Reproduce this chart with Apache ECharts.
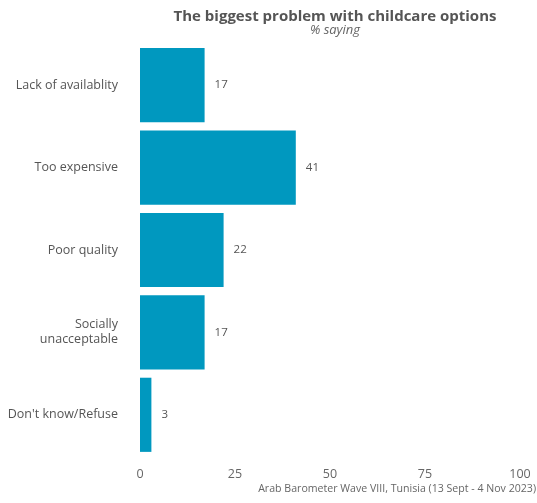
<!DOCTYPE html>
<html>
<head>
<meta charset="utf-8">
<script src="https://cdn.jsdelivr.net/npm/echarts@6/dist/echarts.min.js"></script>
<style>
  html, body { margin: 0; padding: 0; background: #fff; }
  #chart { width: 537px; height: 503px; }
</style>
</head>
<body>
<div id="chart"></div>
<script>
// data
var categories = ['Lack of availablity', 'Too expensive', 'Poor quality', 'Socially\nunacceptable', "Don't know/Refuse"];
var values = [17, 41, 22, 17, 3];
var tickValues = [0, 25, 50, 75, 100];

var font = 'Open Sans';
var chart = echarts.init(document.getElementById('chart'));

var option = {
  animation: false,
  textStyle: { fontFamily: font },
  title: [
    {
      text: 'The biggest problem with childcare options',
      subtext: '% saying',
      left: 330,
      textAlign: 'center',
      top: 4,
      itemGap: 0,
      textStyle: { fontSize: 15, fontWeight: 'bold', color: '#555', fontFamily: font },
      subtextStyle: { fontSize: 13, fontStyle: 'italic', color: '#666', fontFamily: font }
    },
    {
      text: 'Arab Barometer Wave VIII, Tunisia (13 Sept - 4 Nov 2023)',
      right: -4,
      bottom: 4,
      textStyle: { fontSize: 10.6, fontWeight: 'normal', color: '#666', fontFamily: font }
    }
  ],
  grid: { left: 140, right: 17, top: 44, bottom: 47 },
  xAxis: {
    type: 'value',
    min: 0,
    max: 100,
    interval: 25,
    splitLine: { show: false },
    axisLine: { show: false },
    axisTick: { show: false },
    axisLabel: {
      color: '#666', fontSize: 12.5, margin: 12,
      formatter: function (v) { return tickValues.indexOf(v) >= 0 ? String(v) : ''; }
    }
  },
  yAxis: {
    type: 'category',
    data: categories,
    inverse: true,
    axisLine: { show: false },
    axisTick: { show: false },
    axisLabel: { color: '#555', fontSize: 12.5, margin: 22, lineHeight: 15 }
  },
  series: [{
    type: 'bar',
    data: values,
    barCategoryGap: '10%',
    itemStyle: { color: '#0098bf' },
    label: { show: true, position: 'right', distance: 10, color: '#555', fontSize: 11.5 }
  }]
};
chart.setOption(option);
</script>
</body>
</html>
